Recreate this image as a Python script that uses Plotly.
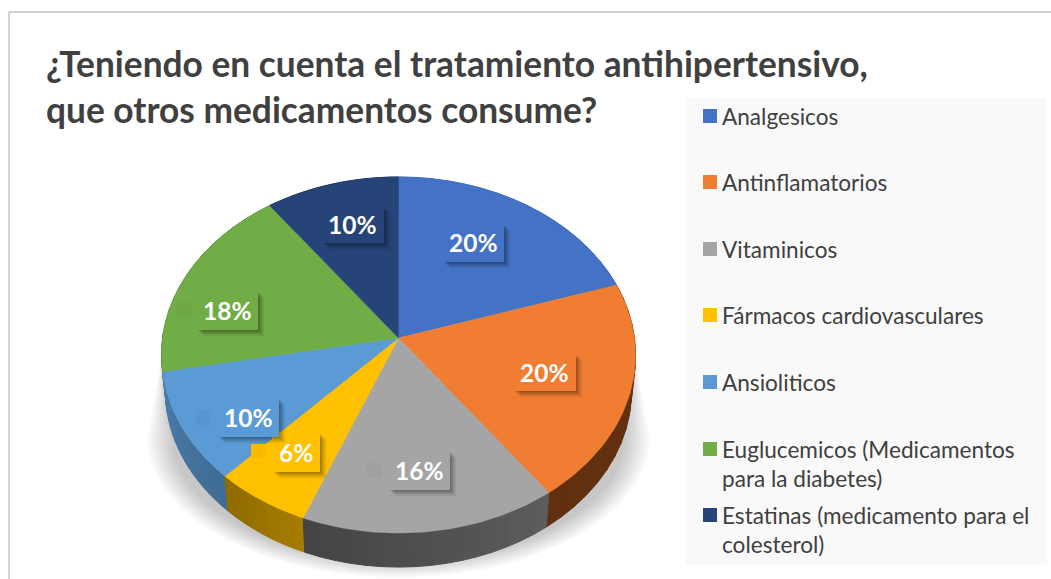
import math
import plotly.graph_objects as go

TITLE = "¿Teniendo en cuenta el tratamiento antihipertensivo,<br>que otros medicamentos consume?"
categories = ["Analgesicos", "Antinflamatorios", "Vitaminicos", "Fármacos cardiovasculares",
              "Ansioliticos", "Euglucemicos (Medicamentos<br>para la diabetes)",
              "Estatinas (medicamento para el<br>colesterol)"]
values = [20, 20, 16, 6, 10, 18, 10]
colors = ["#4472C4", "#F07D32", "#A5A5A5", "#FFC000", "#5B9BD5", "#70AD47", "#264478"]
wall_start = ["#3A62A8", "#61300F", "#5C5C5C", "#A67C00", "#3F6C96", "#4C7A30", "#1A2F54"]
wall_end = ["#3A62A8", "#61300F", "#444444", "#8F6B00", "#4A7AA6", "#4C7A30", "#1A2F54"]
swatch = ["#4472C4", "#F07D32", "#A0A0A0", "#FBBA00", "#5795D0", "#6DA844", "#264478"]

# label layout, in pixels
label_boxes = [(442, 223, 504, 262), (513, 353, 576, 391), (388, 450, 450, 490), (272, 432, 320, 472),
               (217, 397, 279, 437), (196, 290, 258, 330), (321, 205, 384, 243)]
key_boxes = [None, None, (367, 463, 382, 478), (251, 444, 266, 458), (196, 410, 211, 425), (177, 302, 191, 316), None]
legend_y = [116, 182, 249, 315, 382, 464, 530]
legend_marker_y = [116, 182, 249, 315, 382, 449, 515]

# perspective projection of the tilted pie
CX, CY, A, B, K = 398.5, 338.0, 236.0, 176.4, 0.0955
DEPTH, WALL_SX, WALL_SY = 36.0, 0.983, 0.99


def top(theta):
    x, y = math.sin(theta), math.cos(theta)
    d = 1 + K * y
    return A * x / d, B * y / d


def top_px(theta):
    X, Y = top(theta)
    return CX + X, CY - Y


def bot_px(theta):
    X, Y = top(theta)
    return CX + X * WALL_SX, CY - Y * WALL_SY + DEPTH


def arc(t0, t1, fn, step=math.radians(1.0)):
    n = max(2, int(abs(t1 - t0) / step) + 1)
    return [fn(t0 + (t1 - t0) * i / n) for i in range(n + 1)]


def mix(c0, c1, t):
    a = [int(c0[i:i + 2], 16) for i in (1, 3, 5)]
    b = [int(c1[i:i + 2], 16) for i in (1, 3, 5)]
    return "#" + "".join(f"{round(p + (q - p) * t):02X}" for p, q in zip(a, b))


def poly(pts, fill, name=None, edge=0):
    xs = [p[0] for p in pts] + [pts[0][0]]
    ys = [p[1] for p in pts] + [pts[0][1]]
    return go.Scatter(x=xs, y=ys, mode="lines", fill="toself", fillcolor=fill,
                      line=dict(width=edge, color=fill), hoverinfo="skip" if name is None else "name",
                      name=name or "", showlegend=False)


fig = go.Figure()

# soft shadow under the pie
N = 14
for i in range(N):
    t = i / (N - 1)
    rx, ry = 252 - 26 * t, 140 - 16 * t
    cy = 438
    pts = [(162.0, 357.0)] + [(CX - rx * math.cos(math.pi * j / 60), cy + ry * math.sin(math.pi * j / 60))
                              for j in range(61)] + [(635.0, 357.0)]
    fig.add_trace(poly(pts, "rgba(0,0,0,0.017)"))

total = sum(values)
angles = [0.0]
for v in values:
    angles.append(angles[-1] + 2 * math.pi * v / total)

# side walls, back ones first, each with a slight gradient
for i in (6, 5, 0, 1, 4, 3, 2):
    t0, t1 = angles[i], angles[i + 1]
    S = 16
    for s in range(S):
        a0 = t0 + (t1 - t0) * s / S
        a1 = t0 + (t1 - t0) * (s + 1) / S
        pts = arc(a0, a1, top_px) + arc(a1, a0, bot_px)
        fig.add_trace(poly(pts, mix(wall_start[i], wall_end[i], s / (S - 1)), edge=1))

# top faces
for i, name in enumerate(categories):
    pts = [(CX, CY)] + arc(angles[i], angles[i + 1], top_px)
    fig.add_trace(poly(pts, colors[i], name.replace("<br>", " "), edge=0.5))

# legend swatches as markers
fig.add_trace(go.Scatter(x=[710] * len(categories), y=legend_marker_y, mode="markers",
                         marker=dict(symbol="square", size=14, color=colors, line=dict(width=0)),
                         hoverinfo="skip", showlegend=False))

shapes = [
    dict(type="rect", xref="x", yref="y", x0=686, x1=1047, y0=98, y1=565, fillcolor="#F9F9F9",
         line=dict(width=0), layer="below"),
    dict(type="line", xref="x", yref="y", x0=9, x1=9, y0=12, y1=579, line=dict(color="#BFBFBF", width=1.3), layer="below"),
    dict(type="line", xref="x", yref="y", x0=9, x1=1051, y0=12, y1=12, line=dict(color="#BFBFBF", width=1.3), layer="below"),
]
annotations = []
FONT = "Lato, 'Open Sans', sans-serif"

for i, box in enumerate(label_boxes):
    x0, y0, x1, y1 = box
    for off, al in ((8, .02), (7, .035), (6, .05), (5, .06), (4, .07), (3, .08), (2, .08)):
        shapes.append(dict(type="rect", xref="x", yref="y", x0=x0 + off, x1=x1 + off - 1, y0=y0 + off, y1=y1 + off - 1,
                           fillcolor=f"rgba(0,0,0,{al})", line=dict(width=0)))
    shapes.append(dict(type="rect", xref="x", yref="y", x0=x0, x1=x1, y0=y0, y1=y1,
                       fillcolor=colors[i], line=dict(width=0)))
    if key_boxes[i]:
        a, b, c, d = key_boxes[i]
        shapes.append(dict(type="rect", xref="x", yref="y", x0=a, x1=c, y0=b, y1=d,
                           fillcolor=swatch[i], line=dict(width=0)))
    annotations.append(dict(xref="x", yref="y", x=(x0 + x1) / 2, y=(y0 + y1) / 2, text=f"<b>{values[i]}%</b>",
                            showarrow=False, xanchor="center", yanchor="middle",
                            font=dict(family=FONT, size=24.5, color="white")))

for name, y in zip(categories, legend_y):
    annotations.append(dict(xref="x", yref="y", x=720, y=y, text=name, showarrow=False, xanchor="left",
                            yanchor="middle", align="left", font=dict(family=FONT, size=22.6, color="#404040")))

fig.update_layout(
    width=1051, height=579, margin=dict(l=0, r=0, t=0, b=0, pad=0, autoexpand=False),
    paper_bgcolor="white", plot_bgcolor="rgba(0,0,0,0)", showlegend=False, hovermode="closest",
    title=dict(text=f"<b>{TITLE}</b>", x=46 / 1051, xanchor="left", xref="paper", y=1 - 77 / 579, yanchor="top",
               yref="paper", font=dict(family=FONT, size=35.3, color="#404040")),
    xaxis=dict(range=[0, 1051], visible=False, fixedrange=True),
    yaxis=dict(range=[579, 0], visible=False, fixedrange=True),
    shapes=shapes, annotations=annotations,
)
fig.write_html("out.html", config=dict(displayModeBar=False),
               post_script="document.body.style.margin='0';document.body.style.overflow='hidden';")
